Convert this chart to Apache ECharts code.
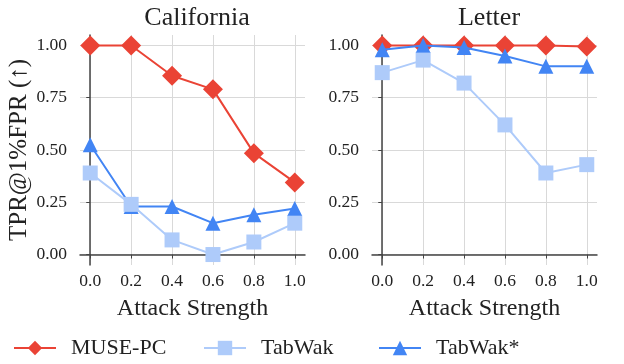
<!DOCTYPE html>
<html>
<head>
<meta charset="utf-8">
<script src="https://cdn.jsdelivr.net/npm/echarts@6/dist/echarts.min.js"></script>
<style>
  html, body { margin: 0; padding: 0; background: #fff; }
  #chart { width: 624px; height: 364px; }
</style>
</head>
<body>
<div id="chart"></div>
<script>
const strengths = [0.0, 0.2, 0.4, 0.6, 0.8, 1.0]
const yTicks = [0, 0.25, 0.5, 0.75, 1.0]

const caMusePC = [1.0, 1.0, 0.855, 0.79, 0.485, 0.345]
const caTabWak = [0.39, 0.24, 0.07, 0.0, 0.06, 0.15]
const caTabWakStar = [0.525, 0.23, 0.23, 0.15, 0.19, 0.22]

const leMusePC = [1.0, 1.0, 1.0, 1.0, 1.0, 0.995]
const leTabWak = [0.87, 0.93, 0.82, 0.62, 0.39, 0.43]
const leTabWakStar = [0.98, 1.0, 0.99, 0.95, 0.90, 0.90]

const FONT = 'Liberation Serif'
const RED = '#ea4335'
const LIGHT = '#aecbfa'
const BLUE = '#4285f4'

function pairs(vals) {
  return strengths.map((x, i) => [x, vals[i]])
}

function xAxis(idx) {
  return {
    type: 'value',
    gridIndex: idx,
    min: -0.05,
    max: 1.05,
    name: 'Attack Strength',
    nameLocation: 'middle',
    nameGap: 32,
    nameTextStyle: { fontFamily: FONT, fontSize: 24, color: '#222' },
    axisLine: { lineStyle: { color: '#444', width: 1.5 } },
    axisTick: { show: true, length: 4, customValues: strengths, lineStyle: { color: '#444' } },
    axisLabel: { customValues: strengths, fontFamily: FONT, fontSize: 17.5, color: '#222', margin: 7,
      formatter: v => v.toFixed(1) },
    splitLine: { show: true, lineStyle: { color: '#d9d9d9', width: 1 } }
  }
}

function yAxis(idx, withName) {
  return {
    type: 'value',
    gridIndex: idx,
    min: -0.05,
    max: 1.05,
    name: withName ? 'TPR@1%FPR (↑)' : '',
    nameLocation: 'middle',
    nameGap: 48,
    nameTextStyle: { fontFamily: FONT, fontSize: 25, color: '#222' },
    axisLine: { show: true, lineStyle: { color: '#444', width: 1.5 } },
    axisTick: { show: true, length: 4, customValues: yTicks, lineStyle: { color: '#444' } },
    axisLabel: { customValues: yTicks, fontFamily: FONT, fontSize: 17.5, color: '#222', margin: 13,
      formatter: v => v.toFixed(2) },
    splitLine: { show: true, lineStyle: { color: '#d9d9d9', width: 1 } }
  }
}

function line(name, vals, idx, color, symbol, size, z) {
  return {
    name,
    type: 'line',
    xAxisIndex: idx,
    yAxisIndex: idx,
    data: pairs(vals),
    symbol,
    symbolSize: size,
    showAllSymbol: true,
    color,
    z,
    itemStyle: { color, opacity: 1 },
    lineStyle: { color, width: 2 },
    animation: false
  }
}

function legend(name, left) {
  return {
    bottom: 0,
    left,
    itemWidth: 42,
    itemHeight: 18,
    textStyle: { fontFamily: FONT, fontSize: 22, color: '#222', padding: [0, 0, 0, 10] },
    data: [name]
  }
}

const chart = echarts.init(document.getElementById('chart'))
chart.setOption({
  animation: false,
  title: [
    { text: 'California', left: 192, top: 0, textAlign: 'center',
      textStyle: { fontFamily: FONT, fontSize: 26, fontWeight: 'normal', color: '#222' } },
    { text: 'Letter', left: 484, top: 0, textAlign: 'center',
      textStyle: { fontFamily: FONT, fontSize: 26, fontWeight: 'normal', color: '#222' } }
  ],
  grid: [
    { left: 80, top: 35, width: 225, height: 230 },
    { left: 372, top: 35, width: 225, height: 230 }
  ],
  xAxis: [xAxis(0), xAxis(1)],
  yAxis: [yAxis(0, true), yAxis(1, false)],
  legend: [
    legend('MUSE-PC', 8),
    legend('TabWak', 198),
    legend('TabWak*', 373)
  ],
  series: [
    line('MUSE-PC', caMusePC, 0, RED, 'diamond', 20, 2),
    line('TabWak*', caTabWakStar, 0, BLUE, 'triangle', 15, 3),
    line('TabWak', caTabWak, 0, LIGHT, 'rect', 15, 4),
    line('MUSE-PC', leMusePC, 1, RED, 'diamond', 20, 2),
    line('TabWak*', leTabWakStar, 1, BLUE, 'triangle', 15, 3),
    line('TabWak', leTabWak, 1, LIGHT, 'rect', 15, 4)
  ]
})
</script>
</body>
</html>
